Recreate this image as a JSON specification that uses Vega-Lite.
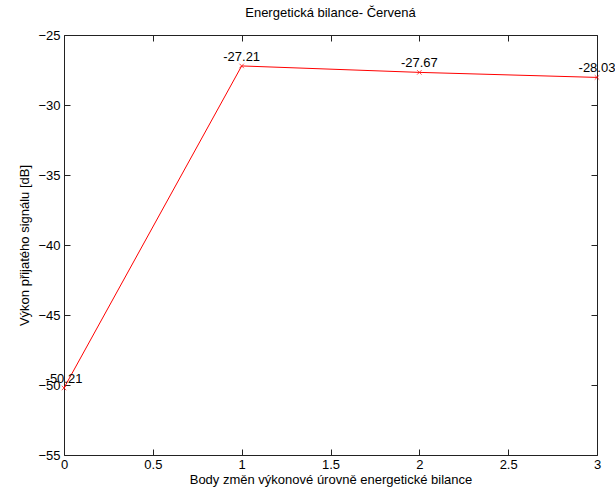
{
  "$schema": "https://vega.github.io/schema/vega-lite/v6.json",
  "autosize": "none",
  "width": 533,
  "height": 420,
  "padding": {"left": 64, "top": 35, "right": 18, "bottom": 45},
  "background": "white",
  "title": {"text": "Energetická bilance- Červená", "font": "Liberation Sans", "fontSize": 13, "fontWeight": "normal", "color": "black", "offset": 9},
  "config": {
    "view": {"stroke": "#222222"},
    "axis": {"labelFont": "Liberation Sans", "titleFont": "Liberation Sans", "labelFontSize": 13, "titleFontSize": 13, "titleFontWeight": "normal", "labelColor": "black", "titleColor": "black", "domain": false, "ticks": true, "tickColor": "#222222", "tickWidth": 1, "tickSize": 6, "offset": -6, "grid": false}
  },
  "data": {"values": [
    {"x": 0, "y": -50.21, "lbl": "-50.21"},
    {"x": 1, "y": -27.21, "lbl": "-27.21"},
    {"x": 2, "y": -27.67, "lbl": "-27.67"},
    {"x": 3, "y": -28.03, "lbl": "-28.03"}
  ]},
  "resolve": {"axis": {"x": "independent", "y": "independent"}},
  "layer": [
    {
      "mark": {"type": "line", "color": "red", "strokeWidth": 1},
      "encoding": {
        "x": {"field": "x", "type": "quantitative", "scale": {"domain": [0, 3], "nice": false, "zero": false},
          "axis": {"orient": "bottom", "tickCount": 6, "format": "~g", "labelPadding": 3, "title": "Body změn výkonové úrovně energetické bilance", "titlePadding": 2, "labelFlush": false}},
        "y": {"field": "y", "type": "quantitative", "scale": {"domain": [-55, -25], "nice": false, "zero": false},
          "axis": {"orient": "left", "tickCount": 6, "labelPadding": 4, "title": "Výkon přijatého signálu [dB]", "titlePadding": 6}}
      }
    },
    {
      "mark": {"type": "point", "shape": "M-1,-1L1,1M-1,1L1,-1", "filled": false, "color": "red", "size": 20, "strokeWidth": 1},
      "encoding": {
        "x": {"field": "x", "type": "quantitative", "axis": null},
        "y": {"field": "y", "type": "quantitative", "axis": null}
      }
    },
    {
      "mark": {"type": "text", "font": "Liberation Sans", "fontSize": 13, "color": "black", "align": "center", "baseline": "middle", "dy": -9, "dx": 0},
      "encoding": {
        "x": {"field": "x", "type": "quantitative",
          "axis": {"orient": "top", "tickCount": 6, "labels": false, "title": null}},
        "y": {"field": "y", "type": "quantitative",
          "axis": {"orient": "right", "tickCount": 6, "labels": false, "title": null}},
        "text": {"field": "lbl"}
      }
    }
  ]
}
